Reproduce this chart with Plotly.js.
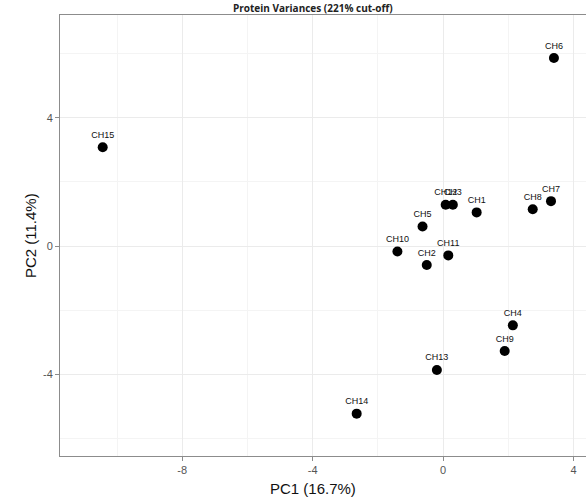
<!DOCTYPE html>
<html>
<head>
<meta charset="utf-8">
<script src="https://cdn.plot.ly/plotly-3.0.1.min.js"></script>
<style>
  html, body { margin: 0; padding: 0; overflow: hidden; background: #fff; }
  #chart { width: 600px; height: 500px; }
</style>
</head>
<body>
<div id="chart"></div>
<script>
// Sample labels and their PCA scores
const samples = ["CH1", "CH2", "CH3", "CH4", "CH5", "CH6", "CH7", "CH8",
                 "CH9", "CH10", "CH11", "CH12", "CH13", "CH14", "CH15"];
const pc1 = [1.03, -0.50, 0.30, 2.14, -0.63, 3.40, 3.31, 2.75,
             1.89, -1.40, 0.16, 0.08, -0.19, -2.65, -10.44];
const pc2 = [1.05, -0.59, 1.29, -2.47, 0.61, 5.86, 1.40, 1.15,
             -3.27, -0.17, -0.29, 1.29, -3.86, -5.22, 3.08];

const xTicks = [-8, -4, 0, 4];
const yTicks = [-4, 0, 4];

const trace = {
  type: "scatter",
  mode: "markers+text",
  x: pc1,
  y: pc2,
  text: samples,
  textposition: "top center",
  textfont: { family: "Liberation Sans, Arial, sans-serif", size: 9, color: "#111" },
  marker: { size: 10, color: "#000" },
  hoverinfo: "text+x+y",
  cliponaxis: false
};

const axisCommon = {
  showline: true,
  mirror: true,
  linecolor: "#8c8c8c",
  linewidth: 1,
  zeroline: false,
  showgrid: true,
  gridcolor: "#ebebeb",
  gridwidth: 1,
  ticks: "outside",
  ticklen: 4,
  tickcolor: "#8c8c8c",
  tickfont: { family: "Liberation Sans, Arial, sans-serif", size: 11, color: "#555" },
  tickmode: "array",
  minor: { dtick: 2, showgrid: true, gridcolor: "#f4f4f4", gridwidth: 1, ticks: "" }
};

const layout = {
  width: 600,
  height: 500,
  margin: { l: 60, r: 5, t: 15, b: 44 },
  paper_bgcolor: "#fff",
  plot_bgcolor: "#fff",
  showlegend: false,
  xaxis: Object.assign({}, axisCommon, {
    range: [-11.75, 4.66],
    tickvals: xTicks,
    ticktext: xTicks.map(String),
    minor: { tick0: 0, dtick: 2, showgrid: true, gridcolor: "#f4f4f4", gridwidth: 1 }
  }),
  yaxis: Object.assign({}, axisCommon, {
    range: [-6.54, 7.2],
    tickvals: yTicks,
    ticktext: yTicks.map(String),
    minor: { tick0: 0, dtick: 2, showgrid: true, gridcolor: "#f4f4f4", gridwidth: 1 }
  }),
  annotations: [
    {
      text: "<b>Protein Variances (221% cut-off)</b>",
      xref: "paper", yref: "paper",
      x: 0.473, y: 1.016,
      xanchor: "center", yanchor: "middle",
      showarrow: false,
      font: { family: "Open Sans, Liberation Sans, sans-serif", size: 10, color: "#222" }
    },
    {
      text: "PC1 (16.7%)",
      xref: "paper", yref: "paper",
      x: 0.473, y: -0.073,
      xanchor: "center", yanchor: "middle",
      showarrow: false,
      font: { family: "Liberation Sans, Arial, sans-serif", size: 15, color: "#111" }
    },
    {
      text: "PC2 (11.4%)",
      xref: "paper", yref: "paper",
      x: -0.055, y: 0.5,
      xanchor: "center", yanchor: "middle",
      textangle: -90,
      showarrow: false,
      font: { family: "Liberation Sans, Arial, sans-serif", size: 15, color: "#111" }
    }
  ]
};

Plotly.newPlot("chart", [trace], layout, { displayModeBar: false, staticPlot: true });
</script>
</body>
</html>
